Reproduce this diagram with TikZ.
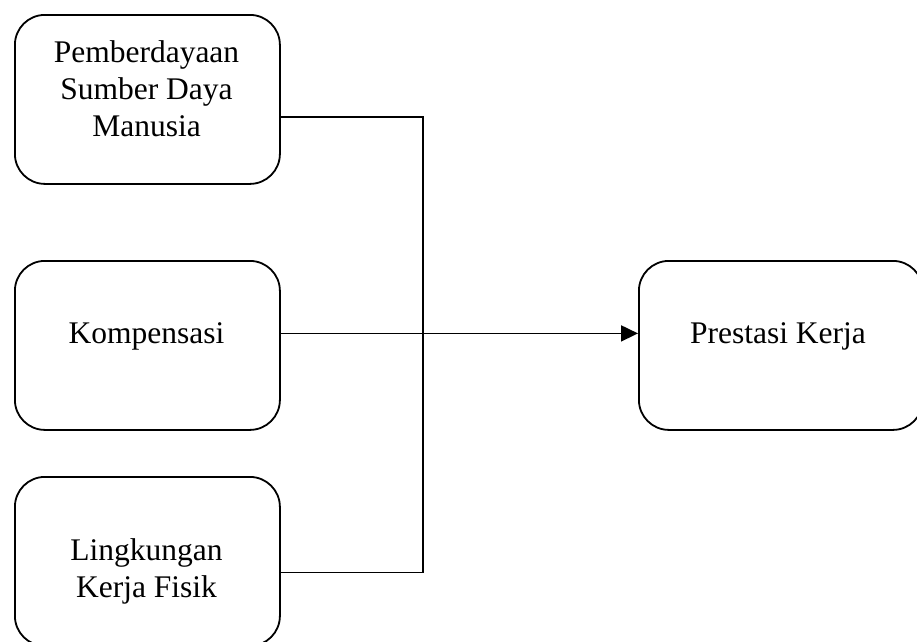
\documentclass[tikz,border=0pt]{standalone}
\usepackage{fontspec}
\setmainfont{Liberation Serif}
\usetikzlibrary{arrows.meta}
\begin{document}
\begin{tikzpicture}[x=1pt,y=-1pt,
  box/.style={draw=black, line width=1.8pt, rounded corners=30pt, fill=white,
    minimum width=265pt, minimum height=169pt, inner sep=0pt, anchor=north west},
  lbl/.style={font=\fontsize{31.5}{37}\selectfont, align=center, anchor=base, inner sep=0pt},
  conn/.style={line width=1.8pt},
  arr/.style={conn, -{Triangle[length=17pt,width=16pt]}}]
\useasboundingbox (0,0) rectangle (917,641);
\clip (0,0) rectangle (917,641);
\node[box] (b1) at (14,14) {};
\node[box] (b2) at (14,260) {};
\node[box] (b3) at (14,476) {};
\node[box, minimum width=284pt] (b4) at (638,260) {};
\node[lbl] (t1) at (146.5,136) {Pemberdayaan\\Sumber Daya\\Manusia};
\node[lbl] (t2) at (146.5,343) {Kompensasi};
\node[lbl] (t3) at (146.5,597) {Lingkungan\\Kerja Fisik};
\node[lbl] (t4) at (778,343) {Prestasi Kerja};
\coordinate (c1) at ([yshift=-17.5pt]b1.east);
\coordinate (c3) at ([yshift=-11pt]b3.east);
\coordinate (c2) at ([yshift=12pt]b2.east);
\coordinate (c4) at ([yshift=12pt]b4.west);
\coordinate (v) at (423,0);
\draw[conn] (c1) -| (v |- c3) -- (c3);
\draw[arr] (c2) -- (c4);
\end{tikzpicture}
\end{document}
